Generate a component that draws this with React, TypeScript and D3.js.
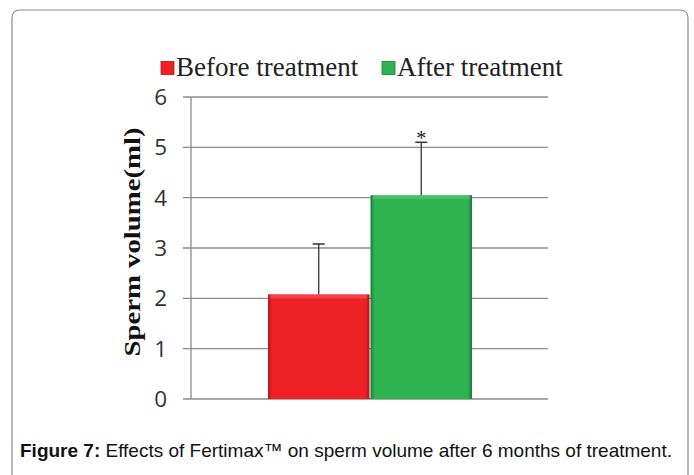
import React from "react";
import * as d3 from "d3";

const categories = ["Before treatment", "After treatment"];
const values = [2.08, 4.05];
const errors = [1.0, 1.05];
const colors = ["#ee2125", "#2db350"];
const darkColors = ["#b3161a", "#1d7a36"];
const yTicks = [0, 1, 2, 3, 4, 5, 6];
const significance = ["", "*"];
const caption = "Effects of Fertimax™ on sperm volume after 6 months of treatment.";

export default function App() {
  const W = 694, H = 475;
  const x0 = 191, x1 = 548;
  const y = d3.scaleLinear().domain([0, 6]).range([399, 97]);
  const x = d3.scaleBand().domain(categories).range([268, 472]).paddingInner(0.01).paddingOuter(0);
  return (
    <svg width={W} height={H} style={{ position: "absolute", left: 0, top: 0 }}>
      <defs>
        {colors.map((c, i) => (
          <linearGradient key={i} id={`g${i}`} x1="0" x2="1" y1="0" y2="0">
            <stop offset="0" stopColor={darkColors[i]} />
            <stop offset="0.04" stopColor={c} />
            <stop offset="0.96" stopColor={c} />
            <stop offset="1" stopColor={darkColors[i]} />
          </linearGradient>
        ))}
      </defs>
      <rect x={0} y={0} width={W} height={H} fill="#fff" />
      <path d={`M12,${H + 5} L12,18 Q12,10 20,10 L680,10 Q688,10 688,18 L688,${H + 5}`} fill="none" stroke="#8a8a8a" strokeWidth={1.2} />
      {yTicks.map((t) => (
        <g key={t}>
          <line x1={183} x2={x1} y1={y(t)} y2={y(t)} stroke="#8c8c8c" strokeWidth={1.3} />
          <text x={167} y={y(t) + 8} textAnchor="end" fontFamily="'Open Sans', 'Liberation Sans', sans-serif" fontSize={22.5} fill="#333">{t}</text>
        </g>
      ))}
      <line x1={x0} x2={x0} y1={y(6)} y2={y(0)} stroke="#8c8c8c" strokeWidth={1.3} />
      {categories.map((c, i) => (
        <g key={c}>
          <rect x={x(c)} y={y(values[i])} width={x.bandwidth()} height={y(0) - y(values[i])} fill={`url(#g${i})`} />
          <rect x={x(c)! + 2} y={y(values[i])} width={x.bandwidth() - 4} height={4} fill="#fff" opacity={0.15} />
          <line x1={x(c)! + x.bandwidth() / 2} x2={x(c)! + x.bandwidth() / 2} y1={y(values[i])} y2={y(values[i] + errors[i])} stroke="#333" strokeWidth={1.3} />
          <line x1={x(c)! + x.bandwidth() / 2 - 6} x2={x(c)! + x.bandwidth() / 2 + 6} y1={y(values[i] + errors[i])} y2={y(values[i] + errors[i])} stroke="#333" strokeWidth={1.5} />
          {significance[i] && (
            <text x={x(c)! + x.bandwidth() / 2} y={y(values[i] + errors[i]) + 3} textAnchor="middle" fontFamily="'Liberation Serif', serif" fontSize={20} fill="#222">{significance[i]}</text>
          )}
        </g>
      ))}
      <text transform={`translate(140,${y(3) - 6}) rotate(-90)`} textAnchor="middle" fontFamily="'Liberation Serif', 'DejaVu Serif', serif" fontWeight="bold" fontSize={24} textLength={229} lengthAdjust="spacingAndGlyphs" fill="#111">Sperm volume(ml)</text>
      {[{ lx: 161, c: categories[0], i: 0 }, { lx: 382, c: categories[1], i: 1 }].map((l) => (
        <g key={l.c}>
          <rect x={l.lx} y={61.5} width={13} height={13} fill={colors[l.i]} stroke={darkColors[l.i]} strokeWidth={0.8} />
          <text x={l.lx + 15} y={76} fontFamily="'Liberation Serif', serif" fontSize={27} fill="#222">{l.c}</text>
        </g>
      ))}
      <text x={20} y={457} fontFamily="'Liberation Sans', Arial, sans-serif" fontSize={19} fill="#111" textLength={652} lengthAdjust="spacingAndGlyphs">
        <tspan fontWeight="bold">Figure 7:</tspan> {caption}
      </text>
    </svg>
  );
}
